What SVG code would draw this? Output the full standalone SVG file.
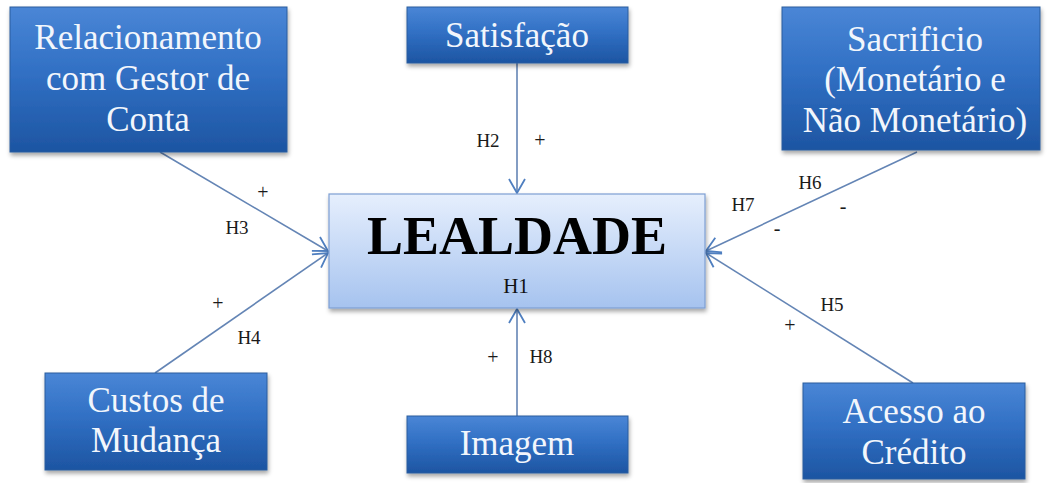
<svg xmlns="http://www.w3.org/2000/svg" width="1047" height="483" viewBox="0 0 1047 483" font-family="Liberation Serif, serif">
<style>
.box{fill:url(#blue);stroke:#2b5c9e;stroke-width:1;filter:url(#sh)}
.main{fill:url(#light);stroke:#7d9ed2;stroke-width:1.2;filter:url(#sh)}
.bt{font-size:35px;fill:#f2f6fc;text-anchor:middle}
.lbl{font-size:19px;fill:#1a1a1a;text-anchor:middle}
.sg{font-size:20px;fill:#1a1a1a;text-anchor:middle}
.con{stroke:#6485b5;stroke-width:1.6;fill:none;marker-end:url(#arr)}
</style>
<defs>
<linearGradient id="blue" x1="0" y1="0" x2="0" y2="1">
<stop offset="0" stop-color="#4a86d6"/>
<stop offset="0.45" stop-color="#3170c4"/>
<stop offset="1" stop-color="#1d55a2"/>
</linearGradient>
<linearGradient id="light" x1="0" y1="0" x2="0" y2="1">
<stop offset="0" stop-color="#e6effd"/>
<stop offset="1" stop-color="#a6c3ef"/>
</linearGradient>
<filter id="sh" x="-10%" y="-10%" width="120%" height="130%">
<feDropShadow dx="1" dy="3" stdDeviation="2" flood-color="#000" flood-opacity="0.35"/>
</filter>
<marker id="arr" markerUnits="userSpaceOnUse" markerWidth="16" markerHeight="18" viewBox="0 0 16 18" refX="15" refY="9" orient="auto">
<path d="M1,1 L15,9 L1,17" fill="none" stroke="#4f7fc0" stroke-width="1.8"/>
</marker>
</defs>
<rect width="1047" height="483" fill="#ffffff"/>
<g id="connectors" font-family="Liberation Serif, serif">
<line class="con" x1="517" y1="63" x2="517" y2="193"/>
<line class="con" x1="160" y1="152" x2="328" y2="251"/>
<line class="con" x1="155" y1="373" x2="328" y2="253"/>
<line class="con" x1="917" y1="152" x2="706" y2="251"/>
<line class="con" x1="913" y1="383" x2="706" y2="253"/>
<line class="con" x1="517" y1="416" x2="517" y2="309"/>
<text class="lbl" x="488" y="147">H2</text>
<text class="sg" x="540" y="147">+</text>
<text class="sg" x="263" y="199">+</text>
<text class="lbl" x="237" y="234">H3</text>
<text class="sg" x="218" y="310">+</text>
<text class="lbl" x="249" y="344">H4</text>
<text class="lbl" x="810" y="189">H6</text>
<text class="lbl" x="743" y="211">H7</text>
<text class="sg" x="843" y="213">-</text>
<text class="sg" x="777" y="235">-</text>
<text class="lbl" x="832" y="311">H5</text>
<text class="sg" x="790" y="332">+</text>
<text class="sg" x="493" y="364">+</text>
<text class="lbl" x="541" y="363">H8</text>
</g>
<g id="node-relacionamento" font-family="Liberation Serif, serif">
<rect class="box" x="10" y="7" width="277" height="145"/>
<text class="bt" x="148" y="49">Relacionamento</text>
<text class="bt" x="148" y="90">com Gestor de</text>
<text class="bt" x="148" y="131">Conta</text>
</g>
<g id="node-satisfacao" font-family="Liberation Serif, serif">
<rect class="box" x="407" y="7" width="221" height="56"/>
<text class="bt" x="517" y="47">Satisfação</text>
</g>
<g id="node-sacrificio" font-family="Liberation Serif, serif">
<rect class="box" x="782" y="7" width="258" height="143"/>
<text class="bt" x="915" y="51">Sacrificio</text>
<text class="bt" x="915" y="91">(Monetário e</text>
<text class="bt" x="915" y="132">Não Monetário)</text>
</g>
<g id="node-lealdade" font-family="Liberation Serif, serif">
<rect class="main" x="329" y="194" width="376" height="114"/>
<text x="517" y="254" font-size="54" font-weight="bold" fill="#000" text-anchor="middle">LEALDADE</text>
<text x="516" y="293" font-size="21" fill="#111" text-anchor="middle">H1</text>
</g>
<g id="node-custos" font-family="Liberation Serif, serif">
<rect class="box" x="45" y="373" width="222" height="97"/>
<text class="bt" x="156" y="412">Custos de</text>
<text class="bt" x="156" y="452">Mudança</text>
</g>
<g id="node-imagem" font-family="Liberation Serif, serif">
<rect class="box" x="407" y="416" width="221" height="57"/>
<text class="bt" x="517" y="455">Imagem</text>
</g>
<g id="node-acesso" font-family="Liberation Serif, serif">
<rect class="box" x="803" y="383" width="222" height="96"/>
<text class="bt" x="914" y="423">Acesso ao</text>
<text class="bt" x="914" y="464">Crédito</text>
</g>
</svg>
